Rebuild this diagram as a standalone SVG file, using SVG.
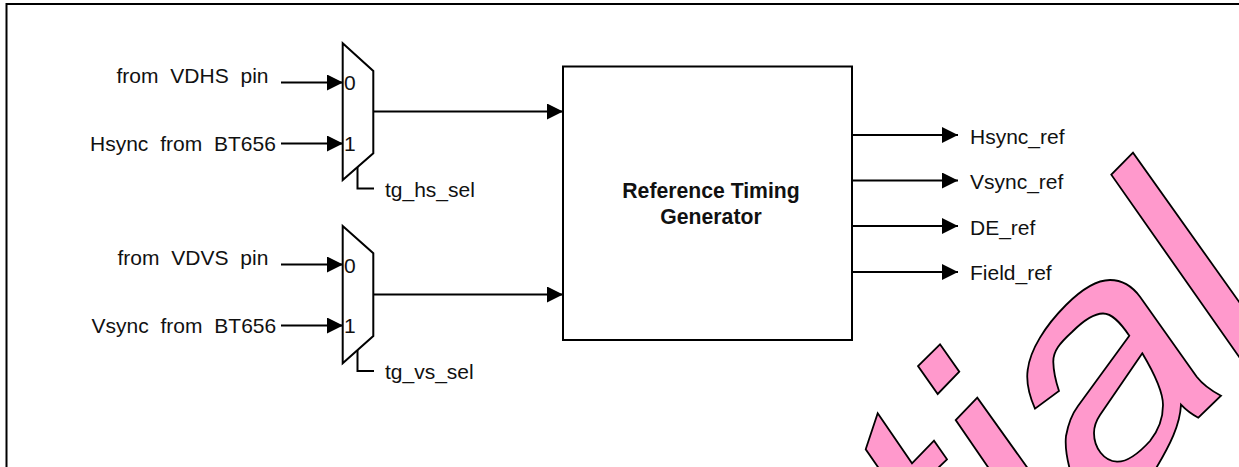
<svg xmlns="http://www.w3.org/2000/svg" width="1239" height="467" viewBox="0 0 1239 467">
<style>
text{font-family:"Liberation Sans",Arial,sans-serif;font-size:21px;fill:#111;word-spacing:6px}
.b{font-weight:bold;text-anchor:middle;word-spacing:0;font-size:21.2px}
.s{fill:#fff;stroke:#000;stroke-width:2}
.w{fill:#ff99cc;stroke:#000;stroke-width:1.8;fill-rule:evenodd;stroke-linejoin:miter}
.c{fill:none;stroke:#000;stroke-width:2}
</style>
<defs><marker id="a" markerUnits="userSpaceOnUse" markerWidth="16" markerHeight="16" refX="16" refY="8" orient="auto"><path d="M0,0L16,8L0,16Z" fill="#000"/></marker></defs>
<rect width="1239" height="467" fill="#fff"/>
<g id="frame"><path class="c" d="M6.5,467V4H1239"/></g>
<g id="watermark">
<path class="w" d="M877.7,413.3L865.7,449.3L880,470H936L947,459.3L934,440.7L912,463.3Z"/>
<path class="w" d="M977.3,397.7L955.7,420L990,470H1029Z"/>
<path class="w" d="M940,344.3L959.3,371.7L937.7,394L918,366Z"/>
<path class="w" d="M1035,408.7C1029,395 1026,382 1027.7,370C1030,350 1045,326 1066,305C1082,289 1097,280 1110,280C1122,280 1132,286 1140,296.7L1196.7,376.7C1204,386 1212,391 1221,395.7L1198.3,417.7C1192,414.5 1186,410 1181,404.7C1180,425 1170,445 1155,470L1070,470C1066,455 1065,445 1066,436C1068,425 1072,414 1078,406L1129.3,335.7C1120,322 1112,313.5 1103,313.5C1094,313.5 1082,322 1072,332C1060,343 1053,351 1053.3,362C1053.5,372 1056,382 1059,391ZM1142.3,353.3L1100,415C1096,421 1094,427 1094,433C1094,448 1104,461 1117,461.7C1128,462 1140,452 1150,441C1158,431 1163,418 1163,405C1163,393 1157,378 1142.3,353.3Z"/>
<path class="w" d="M1133,152.7L1111.3,174.7L1242,361V306Z"/>
</g>
<g id="connectors" class="c">
<path marker-end="url(#a)" d="M281,82.5H343"/>
<path marker-end="url(#a)" d="M281,143.5H343"/>
<path marker-end="url(#a)" d="M281,264.5H343"/>
<path marker-end="url(#a)" d="M281,325.5H343"/>
<path marker-end="url(#a)" d="M373,111.5H563"/>
<path marker-end="url(#a)" d="M373,294.5H563"/>
<path d="M357.5,166V188.5H374"/>
<path d="M357.5,349V371H374"/>
<path marker-end="url(#a)" d="M852,135H958"/>
<path marker-end="url(#a)" d="M852,180.5H958"/>
<path marker-end="url(#a)" d="M852,226H958"/>
<path marker-end="url(#a)" d="M852,272H958"/>
</g>
<g id="mux-hs"><path class="s" d="M342.7,43.3L373.3,71V153.3L342.7,180Z"/><text x="344" y="90">0</text><text x="344" y="151">1</text></g>
<g id="mux-vs"><path class="s" d="M342.7,226L373.3,253.3V336L342.7,363.3Z"/><text x="344" y="273">0</text><text x="344" y="333">1</text></g>
<g id="generator"><rect class="s" x="563" y="66.5" width="289" height="273.5"/><text class="b" x="711" y="198">Reference Timing</text><text class="b" x="711" y="224">Generator</text></g>
<g id="labels">
<text x="116.5" y="83">from VDHS pin</text>
<text x="90" y="151">Hsync from BT656</text>
<text x="117.5" y="265">from VDVS pin</text>
<text x="91.5" y="333">Vsync from BT656</text>
<text x="385" y="197">tg_hs_sel</text>
<text x="385" y="379">tg_vs_sel</text>
<text x="970" y="144">Hsync_ref</text>
<text x="970" y="189">Vsync_ref</text>
<text x="970" y="235">DE_ref</text>
<text x="970" y="280">Field_ref</text>
</g>
</svg>
